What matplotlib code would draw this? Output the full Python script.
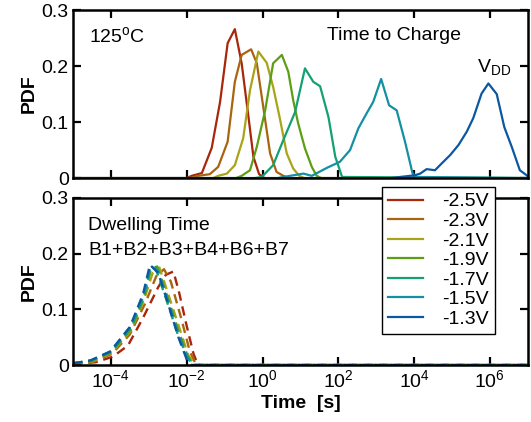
import numpy as np
import matplotlib
matplotlib.use('Agg')
import matplotlib.pyplot as plt
from matplotlib.ticker import NullLocator

plt.rcParams['font.family'] = ['Liberation Sans', 'DejaVu Sans']
plt.rcParams['mathtext.fontset'] = 'custom'
plt.rcParams['mathtext.rm'] = 'Liberation Sans'
plt.rcParams['mathtext.it'] = 'Liberation Sans:italic'
plt.rcParams['mathtext.bf'] = 'Liberation Sans:bold'

labels = ['-2.5V', '-2.3V', '-2.1V', '-1.9V', '-1.7V', '-1.5V', '-1.3V']
colors = ['#A8260C', '#A8640F', '#A8A41A', '#5C9E14', '#14A072', '#1490A2', '#0C58A0']

# Time to charge (log10 of time in s, PDF)
charge_x = [
    [-5, -2.0, -1.87, -1.60, -1.34, -1.12, -0.92, -0.73, -0.55, -0.37, -0.24, -0.09, 0.05, 7],
    [-5, -1.9, -1.69, -1.39, -1.17, -0.92, -0.73, -0.55, -0.30, -0.15, 0.02, 0.20, 0.37, 0.55, 0.7, 7],
    [-5, -1.3, -1.17, -0.94, -0.73, -0.51, -0.33, -0.11, 0.11, 0.28, 0.45, 0.64, 0.81, 0.97, 1.1, 7],
    [-5, -0.7, -0.55, -0.33, -0.15, 0.07, 0.28, 0.51, 0.68, 0.81, 0.94, 1.12, 1.30, 1.43, 1.55, 7],
    [-5, -0.2, -0.02, 0.28, 0.55, 0.86, 1.12, 1.34, 1.52, 1.74, 1.92, 2.1, 7],
    [-5, 0.4, 0.55, 1.08, 1.30, 1.69, 2.04, 2.31, 2.53, 2.75, 2.92, 3.13, 3.34, 3.54, 3.76, 3.96, 4.07, 7],
    [-5, 3.4, 3.63, 4.02, 4.16, 4.33, 4.55, 4.77, 4.95, 5.17, 5.39, 5.56, 5.78, 5.96, 6.18, 6.38, 6.58, 6.79, 6.97, 7],
]
charge_y = [
    [0, 0, 0.004, 0.009, 0.054, 0.136, 0.241, 0.266, 0.205, 0.109, 0.038, 0.007, 0, 0],
    [0, 0, 0.004, 0.007, 0.020, 0.065, 0.172, 0.220, 0.230, 0.205, 0.127, 0.044, 0.011, 0.004, 0, 0],
    [0, 0, 0.004, 0.008, 0.023, 0.071, 0.157, 0.226, 0.206, 0.163, 0.109, 0.044, 0.017, 0.004, 0, 0],
    [0, 0, 0.004, 0.014, 0.056, 0.121, 0.205, 0.220, 0.190, 0.139, 0.098, 0.053, 0.020, 0.004, 0, 0],
    [0, 0, 0.002, 0.023, 0.068, 0.118, 0.196, 0.172, 0.164, 0.109, 0.038, 0.002, 0],
    [0, 0, 0.002, 0.008, 0.004, 0.018, 0.029, 0.050, 0.089, 0.116, 0.136, 0.177, 0.130, 0.121, 0.065, 0.008, 0.002, 0],
    [0, 0, 0.002, 0.005, 0.008, 0.016, 0.014, 0.029, 0.041, 0.059, 0.083, 0.107, 0.151, 0.169, 0.150, 0.091, 0.055, 0.014, 0.005, 0.003],
]

# Dwelling time (log10 of time in s, PDF)
dwell_x = [
    [-5, -4.4, -3.95, -3.55, -3.15, -2.75, -2.55, -2.35, -2.2, -2.0, -1.82, -1.7, 7],
    [-5, -4.45, -3.97, -3.5, -3.1, -2.8, -2.6, -2.42, -2.15, -1.92, -1.75, 7],
    [-5, -4.48, -3.98, -3.47, -3.12, -2.9, -2.72, -2.5, -2.2, -1.96, -1.78, 7],
    [-5, -4.5, -3.98, -3.46, -3.12, -2.95, -2.78, -2.52, -2.22, -1.97, -1.79, 7],
    [-5, -4.52, -3.99, -3.47, -3.13, -2.98, -2.83, -2.55, -2.25, -1.98, -1.81, 7],
    [-5, -4.53, -4.0, -3.48, -3.13, -2.95, -2.75, -2.48, -2.2, -1.97, -1.82, 7],
    [-5, -4.55, -4.02, -3.5, -3.15, -2.97, -2.75, -2.49, -2.22, -2.0, -1.87, 7],
]
dwell_y = [
    [0.002, 0.005, 0.015, 0.035, 0.085, 0.140, 0.162, 0.168, 0.130, 0.070, 0.020, 0, 0],
    [0.002, 0.006, 0.020, 0.055, 0.110, 0.160, 0.172, 0.150, 0.085, 0.025, 0, 0],
    [0.003, 0.007, 0.022, 0.062, 0.118, 0.165, 0.175, 0.130, 0.068, 0.018, 0, 0],
    [0.003, 0.008, 0.023, 0.065, 0.122, 0.170, 0.177, 0.125, 0.062, 0.015, 0, 0],
    [0.003, 0.008, 0.024, 0.067, 0.124, 0.170, 0.176, 0.120, 0.058, 0.013, 0, 0],
    [0.003, 0.008, 0.025, 0.070, 0.125, 0.178, 0.168, 0.112, 0.052, 0.012, 0, 0],
    [0.003, 0.008, 0.024, 0.068, 0.128, 0.180, 0.165, 0.110, 0.050, 0.010, 0, 0],
]

xticks = [1e-4, 1e-2, 1e0, 1e2, 1e4, 1e6]
xticklabels = ['$10^{-4}$', '$10^{-2}$', '$10^{0}$', '$10^{2}$', '$10^{4}$', '$10^{6}$']
yticks = [0, 0.1, 0.2, 0.3]
yticklabels = ['0', '0.1', '0.2', '0.3']

fs = 14

fig = plt.figure(figsize=(5.31, 4.22), dpi=100)
ax1 = fig.add_axes([0.1375, 0.578, 0.8565, 0.398])
ax2 = fig.add_axes([0.1375, 0.135, 0.8565, 0.396])

handles = []
for i in range(len(labels)):
    h, = ax1.plot(10 ** np.array(charge_x[i]), charge_y[i], color=colors[i], lw=1.6, label=labels[i])
    handles.append(h)
for i in range(len(labels)):
    ax2.plot(10 ** np.array(dwell_x[i]), dwell_y[i], color=colors[i], lw=1.7, ls=(0, (4, 2.5)))

for ax in (ax1, ax2):
    ax.set_xscale('log')
    ax.set_xlim(1e-5, 1e7)
    ax.set_ylim(0, 0.3)
    ax.set_xticks(xticks)
    ax.xaxis.set_minor_locator(NullLocator())
    ax.set_yticks(yticks)
    ax.set_yticklabels(yticklabels)
    ax.tick_params(direction='in', length=6, width=1.6, top=True, right=True, labelsize=fs, pad=3)
    for s in ax.spines.values():
        s.set_linewidth(1.8)
    ax.set_ylabel('PDF', fontsize=fs, fontweight='bold', labelpad=3)

ax1.set_xticklabels([])
ax2.set_xticklabels(xticklabels)
ax2.set_xlabel('Time  [s]', fontsize=fs, fontweight='bold', labelpad=3)

ax1.text(0.035, 0.81, '125$^\\mathrm{o}$C', transform=ax1.transAxes, fontsize=fs, va='baseline')
ax1.text(0.558, 0.821, 'Time to Charge', transform=ax1.transAxes, fontsize=fs, va='baseline')
ax1.text(0.888, 0.631, 'V$_\\mathrm{DD}$', transform=ax1.transAxes, fontsize=fs, va='baseline')
ax2.text(0.033, 0.808, 'Dwelling Time', transform=ax2.transAxes, fontsize=fs, va='baseline')
ax2.text(0.033, 0.659, 'B1+B2+B3+B4+B6+B7', transform=ax2.transAxes, fontsize=fs, va='baseline')

leg = fig.legend(handles=handles, loc='upper left', bbox_to_anchor=(0.719, 0.557),
                 fontsize=fs, frameon=True, fancybox=False, framealpha=1,
                 edgecolor='black', handlelength=1.8, handletextpad=1.0,
                 labelspacing=0.1, borderpad=0.3, borderaxespad=0)
leg.get_frame().set_linewidth(1.0)

fig.savefig('out.png', dpi=100)
